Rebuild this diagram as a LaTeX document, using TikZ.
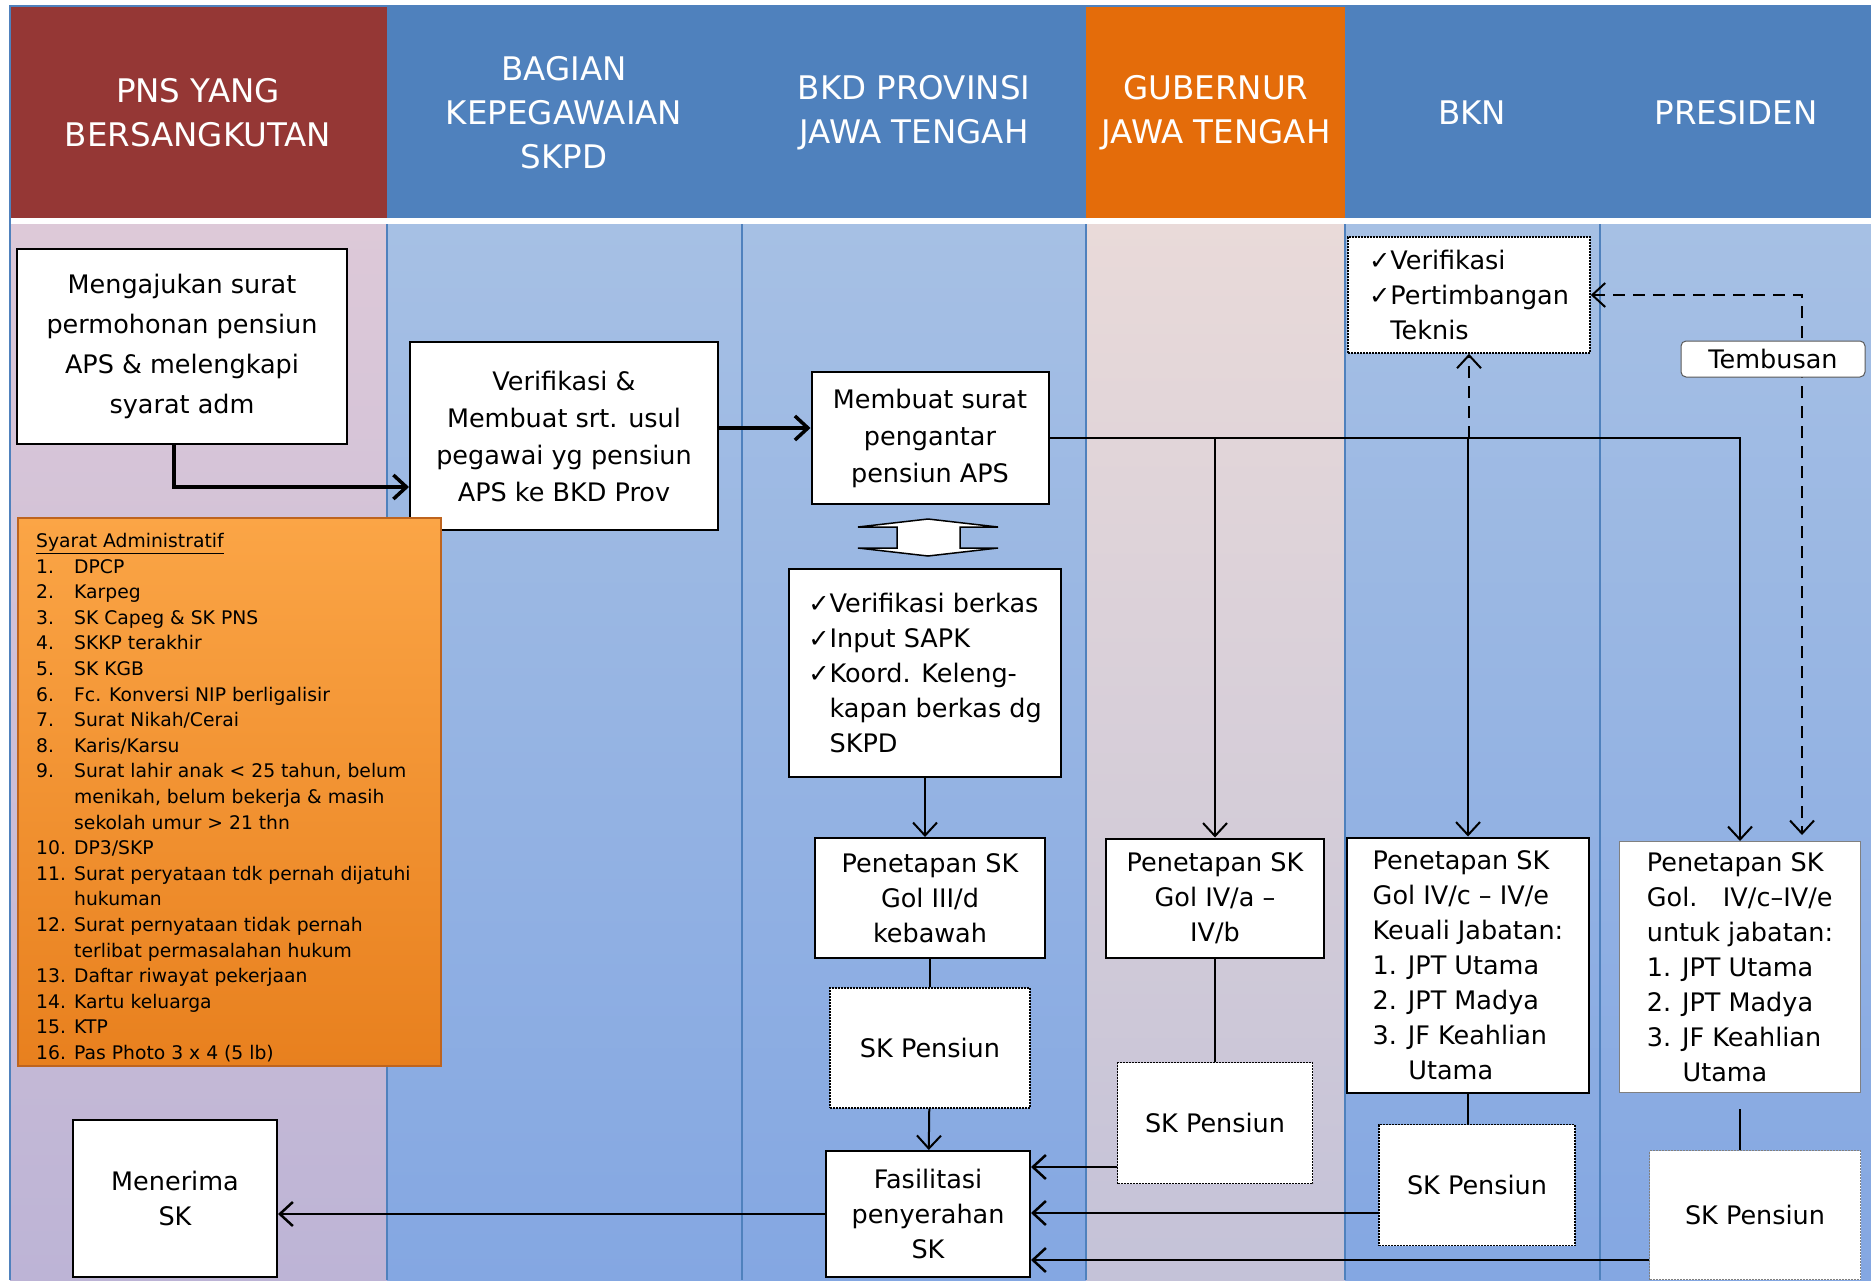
\documentclass[tikz,border=0pt]{standalone}
\usepackage{fontspec}
\setmainfont{DejaVu Sans}
\usetikzlibrary{arrows.meta,positioning}

\definecolor{merahPns}{RGB}{149,55,53}
\definecolor{biruKop}{RGB}{79,129,189}
\definecolor{oranyeGub}{RGB}{228,108,10}
\definecolor{unguAtas}{RGB}{221,201,216}
\definecolor{unguBawah}{RGB}{189,180,214}
\definecolor{biruAtas}{RGB}{166,192,228}
\definecolor{biruBawah}{RGB}{132,167,226}
\definecolor{merahMudaAtas}{RGB}{233,218,217}
\definecolor{merahMudaBawah}{RGB}{196,194,216}
\definecolor{oranyeAtas}{RGB}{251,165,70}
\definecolor{oranyeBawah}{RGB}{232,128,30}
\definecolor{oranyeTepi}{RGB}{190,100,30}

\newcommand{\nomor}[2]{\makebox[38pt][l]{#1}#2}
\newcommand{\lanjut}[1]{\hspace*{38pt}#1}

\tikzset{
  kotak/.style={draw, line width=2pt, fill=white, inner sep=0pt, align=center,
    font=\fontsize{25.5}{35}\selectfont},
  kotakTitik/.style={kotak, densely dotted, line width=1.5pt},
  judul/.style={text=white, align=center, font=\fontsize{32.5}{44}\selectfont},
  panah/.style={line width=2.5pt, -{Straight Barb[length=13pt,width=24pt]}},
  panahTebal/.style={panah, line width=3.5pt},
  garis/.style={line width=2.5pt},
  putus/.style={dash pattern=on 12pt off 8pt},
}

\begin{document}
\begin{tikzpicture}[x=1pt,y=-1pt]
\useasboundingbox (0,0) rectangle (1871,1280);

% header
\fill[merahPns] (10,6) rectangle (387,218);
\fill[biruKop] (387,6) rectangle (1086,218);
\fill[oranyeGub] (1086,6) rectangle (1345,218);
\fill[biruKop] (1345,6) rectangle (1871,218);
\node[judul] (hPns) at (198,113) {PNS YANG\\BERSANGKUTAN};
\node[judul] (hSkpd) at (564,113) {BAGIAN\\KEPEGAWAIAN\\SKPD};
\node[judul] (hBkd) at (914,113) {BKD PROVINSI\\JAWA TENGAH};
\node[judul] (hGub) at (1216,113) {GUBERNUR\\JAWA TENGAH};
\node[judul] (hBkn) at (1472,113) {BKN};
\node[judul] (hPres) at (1736,113) {PRESIDEN};

% lajur
\shade[top color=unguAtas, bottom color=unguBawah] (10,224) rectangle (387,1280);
\shade[top color=biruAtas, bottom color=biruBawah] (387,224) rectangle (742,1280);
\shade[top color=biruAtas, bottom color=biruBawah] (742,224) rectangle (1086,1280);
\shade[top color=merahMudaAtas, bottom color=merahMudaBawah] (1086,224) rectangle (1345,1280);
\shade[top color=biruAtas, bottom color=biruBawah] (1345,224) rectangle (1600,1280);
\shade[top color=biruAtas, bottom color=biruBawah] (1600,224) rectangle (1871,1280);
\foreach \x in {387,742,1086,1345,1600}
  \draw[biruKop, line width=1.5pt] (\x,224) -- (\x,1280);
\draw[biruKop, line width=1.5pt] (10,1280) -- (10,6) -- (1871,6);

% kotak
\node[kotak, minimum width=330pt, minimum height=195pt, font=\fontsize{25.5}{40}\selectfont] (pns) at (182,346)
  {Mengajukan surat\\permohonan pensiun\\APS \& melengkapi\\syarat adm};
\node[kotak, minimum width=308pt, minimum height=188pt, font=\fontsize{25.5}{37}\selectfont] (usul) at (564,436)
  {Verifikasi \&\\Membuat srt. usul\\pegawai yg pensiun\\APS ke BKD Prov};
\node[kotak, minimum width=237pt, minimum height=132pt, font=\fontsize{25.5}{37}\selectfont] (pengantar) at (930,438)
  {Membuat surat\\pengantar\\pensiun APS};
\node[kotak, align=left, minimum width=272pt, minimum height=208pt] (cek) at (925,673)
  {✓Verifikasi berkas\\✓Input SAPK\\✓Koord. Keleng-\\\phantom{✓}kapan berkas dg\\\phantom{✓}SKPD};
\node[kotak, minimum width=230pt, minimum height=120pt] (pen3d) at (930,898)
  {Penetapan SK\\Gol III/d\\kebawah};
\node[kotakTitik, minimum width=200pt, minimum height=120pt] (skpen3d) at (930,1048) {SK Pensiun};
\node[kotak, minimum width=204pt, minimum height=126pt] (fasil) at (928,1214)
  {Fasilitasi\\penyerahan\\SK};
\node[kotak, minimum width=204pt, minimum height=157pt] (terima) at (175,1198) {Menerima\\SK};

\node[draw=oranyeTepi, line width=2pt, top color=oranyeAtas, bottom color=oranyeBawah,
  minimum width=423pt, minimum height=548pt] (syarat) at (229,792) {};
\node[anchor=north west, inner sep=0pt, align=left,
  font=\fontsize{18.75}{25.6}\selectfont] (syaratIsi) at (36,533)
  {\underline{Syarat Administratif}\\
   \nomor{1.}{DPCP}\\
   \nomor{2.}{Karpeg}\\
   \nomor{3.}{SK Capeg \& SK PNS}\\
   \nomor{4.}{SKKP terakhir}\\
   \nomor{5.}{SK KGB}\\
   \nomor{6.}{Fc. Konversi NIP berligalisir}\\
   \nomor{7.}{Surat Nikah/Cerai}\\
   \nomor{8.}{Karis/Karsu}\\
   \nomor{9.}{Surat lahir anak < 25 tahun, belum}\\
   \lanjut{menikah, belum bekerja \& masih}\\
   \lanjut{sekolah umur > 21 thn}\\
   \nomor{10.}{DP3/SKP}\\
   \nomor{11.}{Surat peryataan tdk pernah dijatuhi}\\
   \lanjut{hukuman}\\
   \nomor{12.}{Surat pernyataan tidak pernah}\\
   \lanjut{terlibat permasalahan hukum}\\
   \nomor{13.}{Daftar riwayat pekerjaan}\\
   \nomor{14.}{Kartu keluarga}\\
   \nomor{15.}{KTP}\\
   \nomor{16.}{Pas Photo 3 x 4 (5 lb)}};

\node[kotak, minimum width=218pt, minimum height=119pt] (pen4a) at (1215,898)
  {Penetapan SK\\Gol IV/a --\\IV/b};
\node[kotakTitik, minimum width=195pt, minimum height=121pt] (skpen4a) at (1215,1123) {SK Pensiun};
\node[kotakTitik, align=left, minimum width=242pt, minimum height=116pt] (verifbkn) at (1469,295)
  {✓Verifikasi\\✓Pertimbangan\\\phantom{✓}Teknis};
\node[kotak, align=left, minimum width=242pt, minimum height=255pt] (pen4c) at (1468,965)
  {Penetapan SK\\Gol IV/c -- IV/e\\Keuali Jabatan:\\1. JPT Utama\\2. JPT Madya\\3. JF Keahlian\\\hspace*{1.4em}Utama};
\node[kotakTitik, minimum width=196pt, minimum height=121pt] (skpen4c) at (1477,1185) {SK Pensiun};
\node[kotak, draw=gray, line width=1pt, align=left, minimum width=241pt, minimum height=251pt] (penpres) at (1740,967)
  {Penetapan SK\\Gol.\quad IV/c--IV/e\\untuk jabatan:\\1. JPT Utama\\2. JPT Madya\\3. JF Keahlian\\\hspace*{1.4em}Utama};
\node[kotakTitik, draw=gray, line width=1pt, minimum width=211pt, minimum height=129pt] (skpres) at (1755,1215) {SK Pensiun};

% panah kotak tukar
\draw[line width=1.5pt, fill=white] (858,527) -- (928,519) -- (998,527) -- (960,527) -- (960,548)
  -- (998,548) -- (928,556) -- (858,548) -- (897,548) -- (897,527) -- cycle;

% alur
\coordinate (yA) at (0,487);
\coordinate (yB) at (0,428);
\draw[panahTebal] ([xshift=-8pt]pns.south) |- (usul.west |- yA);
\draw[panahTebal] (usul.east |- yB) -- (pengantar.west |- yB);
\draw[panah, line width=2pt] (pengantar.east) -| (penpres.north);
\draw[panah, line width=2pt] (pengantar.east -| pen4a) -- (pen4a.north);
\draw[panah, line width=2pt] (pengantar.east -| pen4c) -- (pen4c.north);
\draw[panah, line width=2pt, putus] (pengantar.east -| verifbkn) -- (verifbkn.south);
\draw[line width=2pt, putus, {Straight Barb[length=13pt,width=24pt]}-{Straight Barb[length=13pt,width=24pt]}]
  (verifbkn.east) -| ([xshift=62pt,yshift=6pt]penpres.north);
\node[kotak, line width=1pt, draw=gray!70!black, rounded corners=5pt, minimum width=184pt,
  minimum height=36pt] (tembusan) at (1773,359) {Tembusan};

\draw[panah, line width=2pt] (cek.south) -- (cek.south |- pen3d.north);
\draw[garis, line width=2pt] (pen3d) -- (skpen3d);
\draw[panah, line width=2pt] (skpen3d) -- (fasil);
\draw[garis, line width=2pt] (pen4a) -- (skpen4a);
\draw[garis, line width=2pt] (pen4c.south) -- (pen4c.south |- skpen4c.north);
\draw[garis, line width=2pt] (skpres.north -| penpres) -- ++(0,-41);

\coordinate (yC) at (0,1167);
\coordinate (yD) at (0,1213);
\coordinate (yE) at (0,1260);
\draw[panah] (skpen4a.west |- yC) -- (fasil.east |- yC);
\draw[panah] (skpen4c.west |- yD) -- (fasil.east |- yD);
\draw[panah] (skpres.west |- yE) -- (fasil.east |- yE);
\draw[panah] (fasil.west) -- (fasil.west -| terima.east);
\end{tikzpicture}
\end{document}
